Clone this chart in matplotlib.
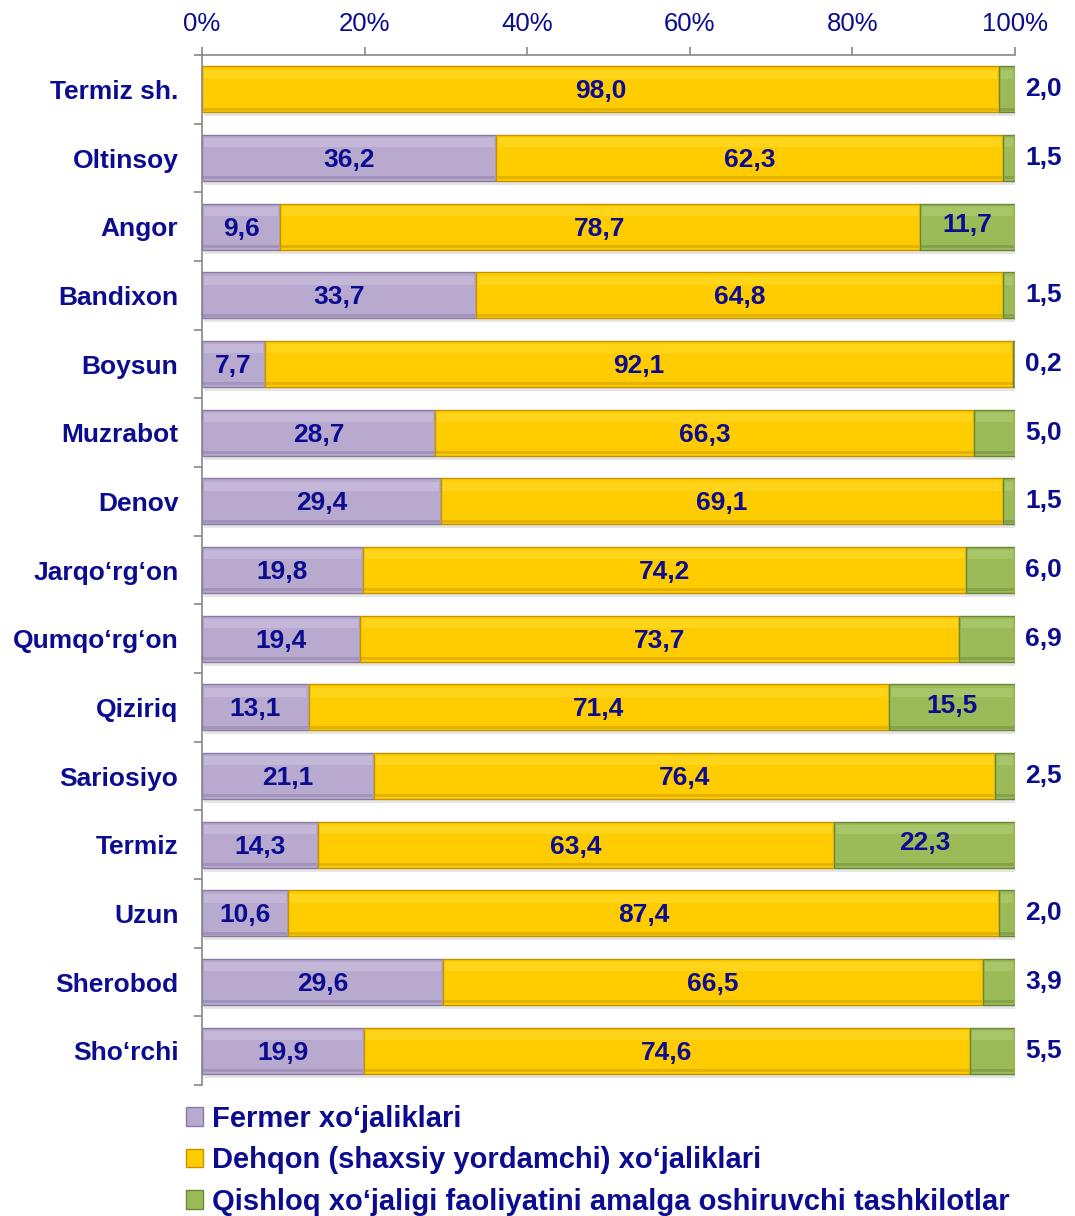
import matplotlib
matplotlib.use("Agg")
import matplotlib.pyplot as plt
from matplotlib.patches import Patch
import numpy as np

plt.rcParams['font.family'] = ['Liberation Sans', 'DejaVu Sans']

categories = ["Termiz sh.", "Oltinsoy", "Angor", "Bandixon", "Boysun", "Muzrabot",
              "Denov", "Jarqo\u2018rg\u2018on", "Qumqo\u2018rg\u2018on", "Qiziriq",
              "Sariosiyo", "Termiz", "Uzun", "Sherobod", "Sho\u2018rchi"]
fermer = [0.0, 36.2, 9.6, 33.7, 7.7, 28.7, 29.4, 19.8, 19.4, 13.1, 21.1, 14.3, 10.6, 29.6, 19.9]
dehqon = [98.0, 62.3, 78.7, 64.8, 92.1, 66.3, 69.1, 74.2, 73.7, 71.4, 76.4, 63.4, 87.4, 66.5, 74.6]
tashkilot = [2.0, 1.5, 11.7, 1.5, 0.2, 5.0, 1.5, 6.0, 6.9, 15.5, 2.5, 22.3, 2.0, 3.9, 5.5]
series_names = ["Fermer xo\u2018jaliklari",
                "Dehqon (shaxsiy yordamchi) xo\u2018jaliklari",
                "Qishloq xo\u2018jaligi faoliyatini amalga oshiruvchi tashkilotlar"]
xticks = [0, 20, 40, 60, 80, 100]

colors = ["#B8A9CE", "#FFCC00", "#9BBB59"]
light = ["#CFC3E0", "#FFDD33", "#B2D078"]
edges = ["#8A7AA3", "#C49400", "#6A8636"]
txt = "#0C0C90"

fig = plt.figure(figsize=(10.75, 12.16), dpi=100)
ax = fig.add_axes([202/1075, 1-1085/1216, (1015-202)/1075, (1085-55)/1216])

y = np.arange(len(categories))
h = 0.67
data = [np.array(fermer), np.array(dehqon), np.array(tashkilot)]
left = np.zeros(len(categories))
total = left + data[0] + data[1] + data[2]

# soft shadow below bars
ax.barh(y + 0.06, total, height=h, left=0.3, color="#000000", alpha=0.10, zorder=1, linewidth=0)

for i, vals in enumerate(data):
    ax.barh(y, vals, height=h, left=left, color=colors[i], edgecolor=edges[i], linewidth=1.0, zorder=2)
    ax.barh(y - h*0.33, np.maximum(vals - 0.5, 0), height=h*0.2, left=left + 0.25,
            color=light[i], linewidth=0, zorder=3, alpha=0.55)
    ax.barh(y + h*0.43, np.maximum(vals - 0.2, 0), height=h*0.07, left=left + 0.1,
            color=edges[i], linewidth=0, zorder=3, alpha=0.45)
    for j, v in enumerate(vals):
        lab = f"{v:.1f}".replace(".", ",")
        if i < 2:
            if v > 0:
                ax.text(left[j] + v/2, y[j] + 0.03, lab, ha="center", va="center", color=txt,
                        fontsize=19, fontweight="bold", zorder=5)
        else:
            if v >= 10:
                ax.text(left[j] + v/2, y[j] - 0.02, lab, ha="center", va="center", color=txt,
                        fontsize=19, fontweight="bold", zorder=5)
            else:
                ax.text(103.5, y[j], lab, ha="center", va="center", color=txt,
                        fontsize=19, fontweight="bold", zorder=5, clip_on=False)
    left = left + vals

ax.set_xlim(0, 100)
ax.set_ylim(len(categories) - 0.5, -0.5)
ax.xaxis.tick_top()
ax.set_xticks(xticks)
ax.set_xticklabels([f"{t}%" for t in xticks])
ax.tick_params(axis="x", direction="out", length=6, width=1.2, color="#888888", pad=8,
               labelsize=18.5, labelcolor=txt)
ax.set_yticks(y)
ax.set_yticklabels(categories)
ax.tick_params(axis="y", which="major", length=0, pad=17, labelsize=19, labelcolor=txt)
for lbl in ax.get_yticklabels():
    lbl.set_fontweight("bold")
ax.set_yticks(np.arange(-0.5, len(categories), 1), minor=True)
ax.tick_params(axis="y", which="minor", direction="out", length=6, width=1.2, color="#888888")
for s in ["right", "bottom"]:
    ax.spines[s].set_visible(False)
for s in ["top", "left"]:
    ax.spines[s].set_color("#888888")
    ax.spines[s].set_linewidth(1.2)

handles = [Patch(facecolor=colors[i], edgecolor=edges[i]) for i in range(3)]
leg = fig.legend(handles, series_names, loc="upper left", bbox_to_anchor=(186/1075, 1-1105/1216),
                 frameon=False, handlelength=0.6, handleheight=0.6, handletextpad=0.3,
                 labelspacing=0.46, borderaxespad=0, borderpad=0,
                 prop={"size": 21, "weight": "bold"})
for t in leg.get_texts():
    t.set_color(txt)

fig.savefig("out.png", dpi=100)
